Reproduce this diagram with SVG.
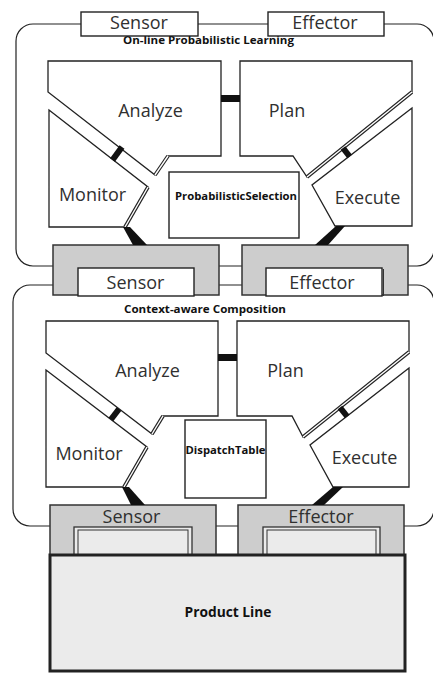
<svg xmlns="http://www.w3.org/2000/svg" width="433" height="673" viewBox="0 0 433 673">
  <style>
    .frame{fill:none;stroke:#222;stroke-width:1.2}
    .part{fill:#fff;stroke:#222;stroke-width:1.3;stroke-linejoin:miter}
    .dbl{stroke:#222;stroke-width:3.6;fill:none}
    .dbl-in{stroke:#fff;stroke-width:1.4;fill:none}
    .port{fill:#cdcdcd;stroke:#333;stroke-width:1.5}
    .box{fill:#fff;stroke:#222;stroke-width:1.4}
    .inner{fill:#ebebeb;stroke:#333;stroke-width:1.3}
    .inner-line{fill:none;stroke:#333;stroke-width:1}
    .lbl{font-family:"Open Sans","Noto Sans",sans-serif;font-size:18px;fill:#303030;text-anchor:middle}
    .ttl{font-family:"Open Sans","Noto Sans",sans-serif;font-size:10.5px;font-weight:bold;fill:#111}
    .bar{stroke:#111;stroke-width:6;fill:none}
    .link{fill:#111;stroke:none}
  </style>

  <!-- outer loop frames -->
  <g id="learning-layer">
    <rect class="frame" x="16" y="24" width="418" height="242" rx="17"/>
    <text class="ttl" x="123" y="44" textLength="171" lengthAdjust="spacingAndGlyphs">On-line Probabilistic Learning</text>
  </g>
  <g id="composition-layer">
    <rect class="frame" x="13" y="285" width="421" height="241" rx="17"/>
    <text class="ttl" x="124" y="313" textLength="162" lengthAdjust="spacingAndGlyphs">Context-aware Composition</text>
  </g>

  <!-- top touchpoints -->
  <g id="top-sensor">
    <rect class="box" x="81" y="12" width="117" height="24"/>
    <text class="lbl" x="139" y="29">Sensor</text>
  </g>
  <g id="top-effector">
    <rect class="box" x="268" y="12" width="116" height="24"/>
    <text class="lbl" x="325" y="29">Effector</text>
  </g>

  <!-- upper MAPE loop -->
  <g id="analyze-1">
    <polygon class="part" points="48,61 221,61 221,156 168,156 155,175 48,92"/>
    <line class="dbl" x1="155" y1="175" x2="168" y2="156"/>
    <line class="dbl-in" x1="155" y1="175" x2="168" y2="156"/>
    <text class="lbl" x="150.5" y="117">Analyze</text>
  </g>
  <g id="plan-1">
    <polygon class="part" points="240,61 412,61 412,92 307,177 293,156 240,156"/>
    <line class="dbl" x1="412" y1="92" x2="307" y2="177"/>
    <line class="dbl-in" x1="412" y1="92" x2="307" y2="177"/>
    <text class="lbl" x="287" y="117">Plan</text>
  </g>
  <g id="monitor-1">
    <polygon class="part" points="49,110 148,187 125,227 49,227"/>
    <line class="dbl" x1="148" y1="187" x2="125" y2="227"/>
    <line class="dbl-in" x1="148" y1="187" x2="125" y2="227"/>
    <text class="lbl" x="92.5" y="201">Monitor</text>
  </g>
  <g id="execute-1">
    <polygon class="part" points="412,108 312,185 335,226 412,226"/>
    <text class="lbl" x="367.5" y="204">Execute</text>
  </g>
  <g id="probabilistic-selection">
    <rect class="box" x="169" y="172" width="130" height="66"/>
    <text class="ttl" x="175" y="200" textLength="122" lengthAdjust="spacingAndGlyphs">ProbabilisticSelection</text>
  </g>

  <!-- lower MAPE loop -->
  <g id="analyze-2">
    <polygon class="part" points="46,321 218,321 218,416 163,416 152,434 46,353"/>
    <line class="dbl" x1="152" y1="434" x2="163" y2="416"/>
    <line class="dbl-in" x1="152" y1="434" x2="163" y2="416"/>
    <text class="lbl" x="147.5" y="377">Analyze</text>
  </g>
  <g id="plan-2">
    <polygon class="part" points="237,321 409,321 409,352 303,437 292,416 237,416"/>
    <line class="dbl" x1="409" y1="352" x2="303" y2="437"/>
    <line class="dbl-in" x1="409" y1="352" x2="303" y2="437"/>
    <text class="lbl" x="285.5" y="377">Plan</text>
  </g>
  <g id="monitor-2">
    <polygon class="part" points="46,370 147,447 124,487 46,487"/>
    <line class="dbl" x1="147" y1="447" x2="124" y2="487"/>
    <line class="dbl-in" x1="147" y1="447" x2="124" y2="487"/>
    <text class="lbl" x="89" y="460">Monitor</text>
  </g>
  <g id="execute-2">
    <polygon class="part" points="409,368 310,445 333,487 409,487"/>
    <text class="lbl" x="364.5" y="464">Execute</text>
  </g>
  <g id="dispatch-table">
    <rect class="box" x="185" y="420" width="81" height="78"/>
    <text class="ttl" x="185.5" y="454" textLength="80" lengthAdjust="spacingAndGlyphs">DispatchTable</text>
  </g>

  <!-- touchpoints between layers -->
  <g id="sensor-1">
    <rect class="port" x="53" y="245" width="166" height="50"/>
    <rect class="box" x="78" y="268" width="116" height="28"/>
    <text class="lbl" x="135.5" y="289">Sensor</text>
  </g>
  <g id="effector-1">
    <rect class="port" x="242" y="245" width="166" height="50"/>
    <rect class="box" x="266" y="268" width="116" height="28"/>
    <line x1="383.5" y1="269" x2="383.5" y2="296" stroke="#333" stroke-width="1"/>
    <text class="lbl" x="322" y="289">Effector</text>
  </g>
  <g id="sensor-2">
    <rect class="port" x="50" y="505" width="166" height="50"/>
    <rect class="inner" x="74" y="527" width="118" height="28"/>
    <rect class="inner-line" x="78" y="530" width="110" height="26"/>
    <text class="lbl" x="131.5" y="523">Sensor</text>
  </g>
  <g id="effector-2">
    <rect class="port" x="238" y="505" width="166" height="50"/>
    <rect class="inner" x="263" y="527" width="117" height="28"/>
    <rect class="inner-line" x="267" y="530" width="109" height="26"/>
    <text class="lbl" x="321" y="523">Effector</text>
  </g>

  <g id="product-line">
    <rect x="50" y="555" width="355" height="116" fill="#ebebeb" stroke="#222" stroke-width="3"/>
    <text x="228" y="617" font-family="'Open Sans','Noto Sans',sans-serif" font-size="14" font-weight="bold" fill="#111" text-anchor="middle" textLength="87" lengthAdjust="spacingAndGlyphs">Product Line</text>
  </g>

  <!-- connectors -->
  <g id="connectors">
    <rect fill="#111" x="221" y="95" width="19" height="7"/>
    <rect fill="#111" x="218" y="354" width="19" height="7"/>
    <line class="bar" x1="122" y1="147" x2="112.5" y2="160"/>
    <line class="bar" x1="343" y1="148" x2="349.6" y2="156.5"/>
    <line class="bar" x1="119" y1="409" x2="110.9" y2="419.5"/>
    <line class="bar" x1="340" y1="407.5" x2="347.2" y2="416.5"/>
    <polygon class="link" points="123,227 130,227 147,245 133,245"/>
    <polygon class="link" points="336,226 345,226 328,245 315,245"/>
    <polygon class="link" points="122,487 129,487 145,505 131,505"/>
    <polygon class="link" points="333,487 343,487 324,505 312,505"/>
  </g>
</svg>
